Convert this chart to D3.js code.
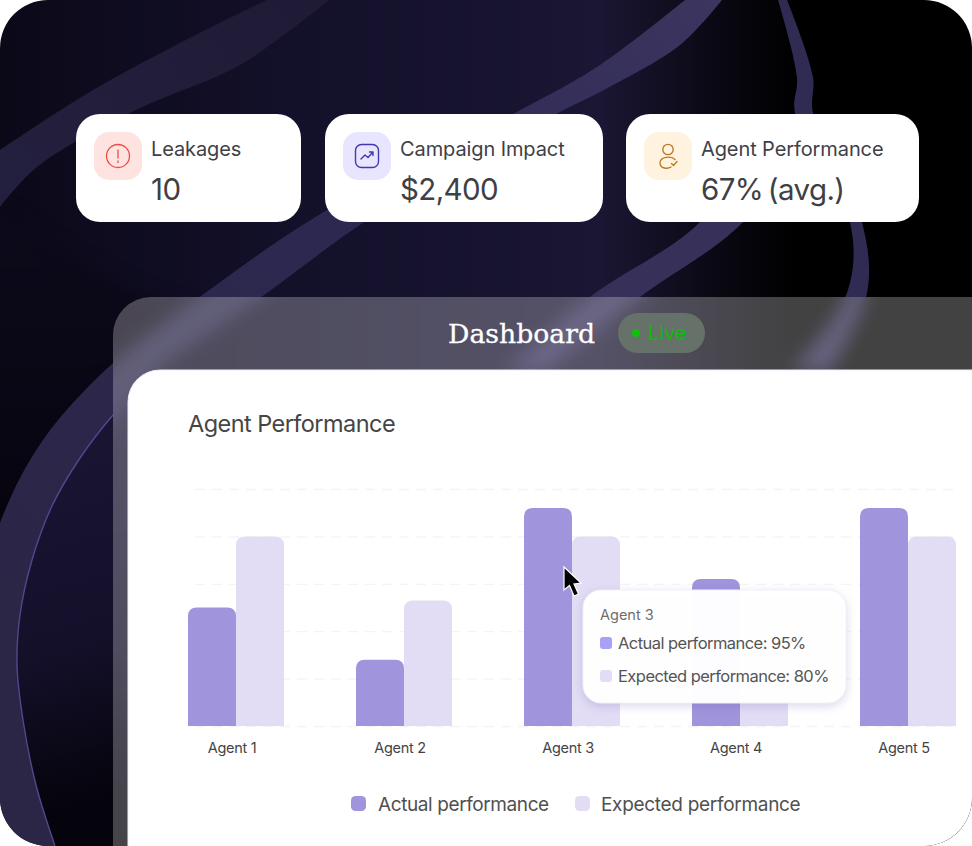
<!DOCTYPE html>
<html>
<head>
<meta charset="utf-8">
<script src="https://cdn.jsdelivr.net/npm/d3@7"></script>
<style>
  html, body { margin: 0; padding: 0; background: #fff; }
  svg { display: block; }
  text { font-family: Inter, "Noto Sans", sans-serif; }
</style>
</head>
<body>
<script>
// chart values
var agents = ["Agent 1", "Agent 2", "Agent 3", "Agent 4", "Agent 5"];
var seriesNames = ["Actual performance", "Expected performance"];
var actualValues = [50, 28, 92, 62, 92];
var expectedValues = [80, 53, 80, 50, 80];
var gridTicks = [0, 20, 40, 60, 80, 100];

// top cards and tooltip texts
var cardLabels = ["Leakages", "Campaign Impact", "Agent Performance"];
var cardValues = ["10", "$2,400", "67% (avg.)"];
var tooltipAgent = "Agent 3";
var tooltipValues = ["95%", "80%"];

var colors = { actual: "#a094dc", expected: "#e2ddf4", swatch: "#a99ff5" };

var svg = d3.select("body").append("svg")
    .attr("width", 972)
    .attr("height", 846)
    .attr("viewBox", "0 0 972 846");

var defs = svg.append("defs");

function addGradient(id, x1, y1, x2, y2, stops) {
    var g = defs.append("linearGradient").attr("id", id)
        .attr("gradientUnits", "userSpaceOnUse")
        .attr("x1", x1).attr("y1", y1).attr("x2", x2).attr("y2", y2);
    stops.forEach(function(s) {
        g.append("stop").attr("offset", s[0]).attr("stop-color", s[1]);
    });
}
addGradient("bgGrad", 0, 0, 972, 0, [[0, "#0b0918"], [0.3, "#13102a"], [0.62, "#1a1633"], [0.74, "#0a0812"], [0.82, "#000"], [1, "#000"]]);
addGradient("leftDark", 0, 230, 0, 520, [[0, "#0c0a1a"], [1, "#070410"]]);
addGradient("innerGrad", 0, 420, 110, 800, [[0, "#1a1534"], [0.6, "#14102a"], [1, "#05030b"]]);
addGradient("bandA", 0, 200, 330, 0, [[0, "#231f3e"], [1, "#1f1b36"]]);
addGradient("bandB", 720, 0, 0, 700, [[0, "#3b3560"], [0.4, "#2d2850"], [1, "#2b2645"]]);

function addBlur(id, dev) {
    defs.append("filter").attr("id", id)
        .attr("x", "-10%").attr("y", "-10%").attr("width", "120%").attr("height", "120%")
        .attr("color-interpolation-filters", "sRGB")
        .append("feGaussianBlur").attr("stdDeviation", dev);
}
addBlur("soft", 0.7);
addBlur("glass", 9);
var tipShadow = defs.append("filter").attr("id", "tipShadow").attr("x", "-20%").attr("y", "-20%").attr("width", "140%").attr("height", "150%")
    .attr("color-interpolation-filters", "sRGB");
tipShadow.append("feDropShadow").attr("dx", 0).attr("dy", 3).attr("stdDeviation", 5)
    .attr("flood-color", "#5a4fa0").attr("flood-opacity", 0.22);

defs.append("clipPath").attr("id", "pageClip").append("rect")
    .attr("width", 972).attr("height", 846).attr("rx", 48);
defs.append("clipPath").attr("id", "panelClip").append("rect")
    .attr("x", 113).attr("y", 297).attr("width", 920).attr("height", 620).attr("rx", 38);

// background ribbons, just decoration. smoothed with catmull rom
var smooth = d3.line().curve(d3.curveCatmullRom.alpha(0.5));
function band(edgeA, edgeB) {
    return smooth(edgeA) + "L" + smooth(edgeB.slice().reverse()).slice(1) + "Z";
}
var edgeMainTop = [[685, 0], [600, 65], [515, 113], [322, 213], [205, 293], [113, 363], [43, 440], [0, 523], [-30, 640], [-30, 846]];
var edgeInner = [[150, 376], [113, 415], [80, 458], [52, 506], [32, 560], [20, 615], [17, 665], [23, 720], [36, 785], [55, 846]];
var edgeMainBottom = [[722, 0], [680, 45], [600, 92], [558, 113], [372, 217], [267, 293]].concat(edgeInner);

var scene = defs.append("g").attr("id", "scene");
scene.append("rect").attr("width", 972).attr("height", 846).attr("fill", "url(#bgGrad)");
scene.append("path")
    .attr("d", "M-30,207 L-30,560 L0,560 C50,440 100,390 190,310 C110,290 60,250 -30,190 Z")
    .attr("fill", "url(#leftDark)").attr("filter", "url(#glass)");
scene.append("path")
    .attr("d", smooth(edgeInner) + "L200,846 L200,376 Z")
    .attr("fill", "url(#innerGrad)");
scene.append("path")
    .attr("d", band([[267, 0], [186, 40], [93, 90], [0, 150]], [[329, 0], [240, 65], [136, 110], [37, 167], [0, 207]]))
    .attr("fill", "url(#bandA)").attr("filter", "url(#soft)");
scene.append("path")
    .attr("d", band(edgeMainTop, edgeMainBottom))
    .attr("fill", "url(#bandB)").attr("filter", "url(#soft)");
scene.append("path")
    .attr("d", smooth(edgeInner))
    .attr("fill", "none").attr("stroke", "#50488f").attr("stroke-width", 1.4);
scene.append("path")
    .attr("d", band([[770, 120], [700, 222], [590, 297], [505, 372]], [[812, 120], [743, 222], [640, 297], [545, 372]]))
    .attr("fill", "#37315a").attr("filter", "url(#soft)");
scene.append("path")
    .attr("d", band([[778, 0], [797, 77], [795, 113], [850, 222], [847, 293], [790, 372]], [[787, 0], [813, 77], [813, 113], [862, 222], [867, 293], [830, 372]]))
    .attr("fill", "#302b52").attr("filter", "url(#soft)");

var page = svg.append("g").attr("clip-path", "url(#pageClip)");
page.append("use").attr("href", "#scene");

// frosted panel: same background again, blurred, under a white veil
var panel = page.append("g").attr("clip-path", "url(#panelClip)");
panel.append("use").attr("href", "#scene").attr("filter", "url(#glass)");
panel.append("rect").attr("x", 113).attr("y", 297).attr("width", 860).attr("height", 549)
    .attr("fill", "#fff").attr("opacity", 0.26);

page.append("text").attr("x", 448).attr("y", 343)
    .attr("textLength", 147).attr("lengthAdjust", "spacingAndGlyphs")
    .style("font-family", "'DejaVu Serif', serif").style("font-size", "26px")
    .attr("fill", "#fff").attr("stroke", "#fff").attr("stroke-width", 0.3).text("Dashboard");
page.append("rect").attr("x", 618).attr("y", 313).attr("width", 87).attr("height", 40).attr("rx", 20).attr("fill", "#66716a");
page.append("circle").attr("cx", 636).attr("cy", 333).attr("r", 4).attr("fill", "#0cc00c");
page.append("text").attr("x", 648).attr("y", 340).style("font-size", "20px").attr("fill", "#0abb0a").text("Live");

// white card holding the chart
page.append("rect").attr("x", 128).attr("y", 370).attr("width", 900).attr("height", 520).attr("rx", 32)
    .attr("fill", "#fff").attr("stroke", "#f1eefb").attr("stroke-width", 1);
page.append("text").attr("x", 188).attr("y", 432).style("font-size", "23.5px").style("letter-spacing", "-0.55px")
    .attr("fill", "#454545").text("Agent Performance");

// scales
var x0 = d3.scaleBand().domain(agents).range([152, 992]).paddingInner(72 / 168).paddingOuter(36 / 168);
var x1 = d3.scaleBand().domain(seriesNames).range([0, x0.bandwidth()]);
var y = d3.scaleLinear().domain([0, 100]).range([726, 489]);

// dashed grid
var grid = page.append("g").attr("transform", "translate(195,0)")
    .call(d3.axisLeft(y).tickValues(gridTicks).tickSize(-760).tickFormat(""));
grid.select(".domain").remove();
grid.selectAll("line").attr("stroke", "#f4f3f6").attr("stroke-width", 1.3).attr("stroke-dasharray", "10 7");

function topRoundedBar(x, top, w, bottom, r) {
    var p = d3.path();
    p.moveTo(x, bottom);
    p.lineTo(x, top + r);
    p.quadraticCurveTo(x, top, x + r, top);
    p.lineTo(x + w - r, top);
    p.quadraticCurveTo(x + w, top, x + w, top + r);
    p.lineTo(x + w, bottom);
    p.closePath();
    return p.toString();
}

var series = [
    { name: seriesNames[0], values: actualValues, color: colors.actual },
    { name: seriesNames[1], values: expectedValues, color: colors.expected }
];
series.slice().reverse().forEach(function(s) {
    page.append("g").selectAll("path")
        .data(agents)
        .enter().append("path")
        .attr("d", function(a, i) {
            return topRoundedBar(x0(a) + x1(s.name), y(s.values[i]), x1.bandwidth(), y(0), 9);
        })
        .attr("fill", s.color);
});

// x axis labels
var xAxis = page.append("g").attr("transform", "translate(-4," + y(0) + ")")
    .call(d3.axisBottom(x0).tickSize(0).tickPadding(17));
xAxis.select(".domain").remove();
xAxis.selectAll("text").style("font-size", "14.5px").style("font-family", "Inter").style("letter-spacing", "-0.3px").attr("fill", "#444");

// legend
var legendX = [351, 575];
var legendSpacing = ["-0.4px", "-0.3px"];
seriesNames.forEach(function(name, i) {
    var g = page.append("g").attr("transform", "translate(" + legendX[i] + ",796)");
    g.append("rect").attr("width", 15).attr("height", 15).attr("rx", 4.5).attr("fill", series[i].color);
    g.append("text").attr("x", i == 0 ? 27 : 26).attr("y", 15).style("font-size", "19px").style("letter-spacing", legendSpacing[i])
        .attr("fill", "#505050").text(name);
});

// tooltip
var tip = page.append("g");
tip.append("rect").attr("x", 583).attr("y", 590).attr("width", 263).attr("height", 113).attr("rx", 18)
    .attr("fill", "#fff").attr("fill-opacity", 0.98).attr("stroke", "#f3f0fa").attr("filter", "url(#tipShadow)");
tip.append("text").attr("x", 600).attr("y", 620).style("font-size", "14.5px").attr("fill", "#6e6e6e").text(tooltipAgent);
[colors.swatch, colors.expected].forEach(function(c, i) {
    tip.append("rect").attr("x", 600).attr("y", 637 + i * 33).attr("width", 12).attr("height", 12).attr("rx", 3).attr("fill", c);
    tip.append("text").attr("x", 618).attr("y", 649 + i * 33).style("font-size", "16.5px").style("letter-spacing", "-0.55px").attr("fill", "#555")
        .text(seriesNames[i] + ": " + tooltipValues[i]);
});

// mouse pointer
page.append("path")
    .attr("d", "M564,567 L564,590 L569.5,585.5 L574,596 L578.5,594 L574,584 L581,583 Z")
    .attr("fill", "#000").attr("stroke", "#fff").attr("stroke-width", 1.2);

// top cards
var cardX = [76, 325, 626];
var cardW = [225, 278, 293];
var iconFill = ["#ffe3e1", "#e8e5ff", "#fff3e0"];
cardLabels.forEach(function(label, i) {
    var g = page.append("g").attr("transform", "translate(" + cardX[i] + ",114)");
    g.append("rect").attr("width", cardW[i]).attr("height", 108).attr("rx", 24).attr("fill", "#fff");
    g.append("rect").attr("x", 18).attr("y", 18).attr("width", 48).attr("height", 48).attr("rx", 15).attr("fill", iconFill[i]);
    g.append("text").attr("x", 75).attr("y", 42).style("font-size", "20px").style("letter-spacing", "-0.1px").attr("fill", "#3f3f46").text(label);
    g.append("text").attr("x", 75).attr("y", 86).style("font-size", "29.5px").style("letter-spacing", "-0.6px").style("word-spacing", "-3px")
        .attr("fill", "#3f3f46").text(cardValues[i]);
});

// card icons
var alertIcon = page.append("g").attr("transform", "translate(118,156)").attr("fill", "none").attr("stroke", "#ee4b45").attr("stroke-width", 1.3);
alertIcon.append("circle").attr("r", 11.5);
alertIcon.append("path").attr("d", "M0,-6 V2 M0,5 V6.4").attr("stroke-linecap", "round");

var trendIcon = page.append("g").attr("transform", "translate(367,156)").attr("fill", "none").attr("stroke", "#4238ad").attr("stroke-width", 1.4);
trendIcon.append("rect").attr("x", -11.5).attr("y", -11.5).attr("width", 23).attr("height", 23).attr("rx", 6);
trendIcon.append("path").attr("d", "M-6,3 L-2,-1 L1,1.5 L6,-4 M2.5,-4 H6 V-0.5").attr("stroke-linecap", "round").attr("stroke-linejoin", "round");

var personIcon = page.append("g").attr("transform", "translate(668,156)").attr("fill", "none").attr("stroke", "#b9781f").attr("stroke-width", 1.3).attr("stroke-linecap", "round");
personIcon.append("circle").attr("cy", -6.5).attr("r", 5.2);
personIcon.append("path").attr("d", "M7,3.5 C4,0 -8,0 -8,7 C-8,13 0,13 3,11");
personIcon.append("path").attr("d", "M3.5,7.5 L5.5,9.5 L9,5.5");
</script>
</body>
</html>
